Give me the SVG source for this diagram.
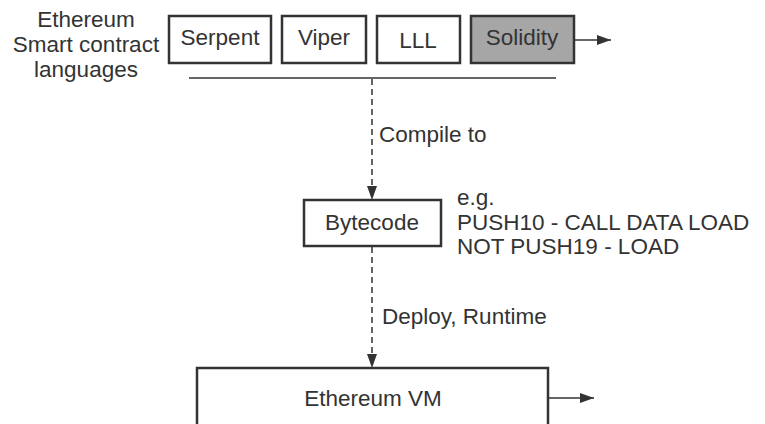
<svg xmlns="http://www.w3.org/2000/svg" width="765" height="424" viewBox="0 0 765 424">
  <style>
    text { font-family: "Liberation Sans", Arial, sans-serif; font-size: 22.5px; fill: #333; }
    .box { fill: #fff; stroke: #333; stroke-width: 2.5; }
    .shaded { fill: #a6a6a6; }
    .line { stroke: #333; stroke-width: 1.5; fill: none; }
    .dash { stroke-dasharray: 6 4; }
  </style>
  <defs>
    <marker id="arrow" viewBox="0 0 14 10" refX="14" refY="5" markerWidth="14" markerHeight="10" markerUnits="userSpaceOnUse" orient="auto">
      <path d="M0,0 L14,5 L0,10 Z" fill="#333"/>
    </marker>
  </defs>
  <rect width="765" height="424" fill="#fff"/>

  <g id="languages-label">
    <text x="86" y="27" text-anchor="middle">Ethereum</text>
    <text x="86" y="52" text-anchor="middle">Smart contract</text>
    <text x="86" y="77" text-anchor="middle">languages</text>
  </g>

  <g id="serpent">
    <rect class="box" x="169" y="16" width="102" height="47"/>
    <text x="220" y="45" text-anchor="middle">Serpent</text>
  </g>
  <g id="viper">
    <rect class="box" x="282" y="16" width="84" height="47"/>
    <text x="324" y="45" text-anchor="middle">Viper</text>
  </g>
  <g id="lll">
    <rect class="box" x="377" y="16" width="83" height="47"/>
    <text x="418" y="48" text-anchor="middle">LLL</text>
  </g>
  <g id="solidity">
    <rect class="box shaded" x="471" y="16" width="103" height="47"/>
    <text x="522" y="45" text-anchor="middle">Solidity</text>
  </g>

  <g id="bytecode">
    <rect class="box" x="304" y="200" width="137" height="46"/>
    <text x="372" y="230" text-anchor="middle">Bytecode</text>
  </g>
  <g id="bytecode-example">
    <text x="457" y="205">e.g.</text>
    <text x="457" y="230">PUSH10 - CALL DATA LOAD</text>
    <text x="457" y="254">NOT PUSH19 - LOAD</text>
  </g>

  <g id="ethereum-vm">
    <rect class="box" x="197" y="368" width="351" height="70"/>
    <text x="373" y="406" text-anchor="middle">Ethereum VM</text>
  </g>

  <g id="connectors">
    <line class="line" x1="189" y1="78" x2="556" y2="78"/>
    <line class="line" x1="574" y1="40" x2="611" y2="40" marker-end="url(#arrow)"/>
    <line class="line dash" x1="372" y1="79" x2="372" y2="200" marker-end="url(#arrow)"/>
    <text x="379" y="142">Compile to</text>
    <line class="line dash" x1="372" y1="247" x2="372" y2="368" marker-end="url(#arrow)"/>
    <text x="382" y="324">Deploy, Runtime</text>
    <line class="line" x1="549" y1="398" x2="594" y2="398" marker-end="url(#arrow)"/>
  </g>
</svg>
